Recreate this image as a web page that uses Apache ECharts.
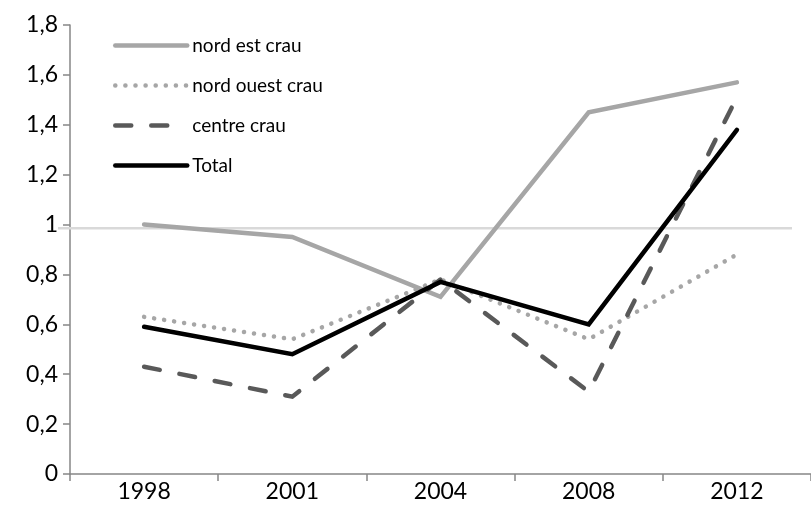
<!DOCTYPE html>
<html>
<head>
<meta charset="utf-8">
<script src="https://cdn.jsdelivr.net/npm/echarts@6/dist/echarts.min.js"></script>
<style>
  html, body { margin: 0; padding: 0; background: #fff; }
  #chart { width: 811px; height: 518px; }
</style>
</head>
<body>
<div id="chart"></div>
<script>
// Years on the category axis
const years = ['1998', '2001', '2004', '2008', '2012'];

// Index values per zone
const nordEstCrau   = [1.00, 0.95, 0.71, 1.45, 1.57];
const nordOuestCrau = [0.63, 0.54, 0.78, 0.54, 0.88];
const centreCrau    = [0.43, 0.31, 0.78, 0.33, 1.51];
const total         = [0.59, 0.48, 0.77, 0.60, 1.38];

// Reference level drawn as a light horizontal rule
const referenceLevel = 0.985;

const FONT = 'Lato, "Open Sans", sans-serif';

const chart = echarts.init(document.getElementById('chart'));

function lineSeries(name, data, color, width, type, cap) {
  return {
    name: name,
    type: 'line',
    data: data,
    showSymbol: false,
    symbol: 'none',
    silent: true,
    animation: false,
    lineStyle: { color: color, width: width, type: type, cap: cap || 'round', join: 'miter' },
    itemStyle: { color: color }
  };
}

chart.setOption({
  animation: false,
  backgroundColor: '#ffffff',
  grid: { left: 70, right: -11, top: 25, bottom: 44, containLabel: false },
  legend: {
    orient: 'vertical',
    left: 108,
    top: 31,
    itemWidth: 72,
    itemHeight: 18,
    itemGap: 21,
    selectedMode: false,
    // keep only the line sample, without the point marker
    itemStyle: { opacity: 0 },
    lineStyle: { width: 'inherit', cap: 'round' },
    textStyle: { fontFamily: FONT, fontSize: 19, color: '#000' },
    data: ['nord est crau', 'nord ouest crau', 'centre crau', 'Total']
  },
  xAxis: {
    type: 'category',
    data: years,
    boundaryGap: true,
    axisLine: { lineStyle: { color: '#868686', width: 1.5 } },
    axisTick: { show: true, length: 7, lineStyle: { color: '#868686', width: 1.5 } },
    axisLabel: { fontFamily: FONT, fontSize: 23, color: '#000', margin: 6 },
    splitLine: { show: false }
  },
  yAxis: {
    type: 'value',
    min: 0,
    max: 1.8,
    interval: 0.2,
    axisLine: { show: true, lineStyle: { color: '#868686', width: 1.5 } },
    axisTick: { show: true, length: 7, lineStyle: { color: '#868686', width: 1.5 } },
    axisLabel: {
      fontFamily: FONT, fontSize: 23, color: '#000', margin: 12,
      formatter: function (v) { return String(Math.round(v * 10) / 10).replace('.', ','); }
    },
    splitLine: { show: false }
  },
  series: [
    lineSeries('nord est crau', nordEstCrau, '#a6a6a6', 4.5, 'solid'),
    lineSeries('nord ouest crau', nordOuestCrau, '#a6a6a6', 4.5, [0.1, 10], 'round'),
    lineSeries('centre crau', centreCrau, '#595959', 4.5, [16, 20], 'round'),
    lineSeries('Total', total, '#000000', 4.5, 'solid')
  ]
});

// Light horizontal rule at the reference level, placed through the value scale
function drawRule() {
  const y = chart.convertToPixel({ yAxisIndex: 0 }, referenceLevel);
  chart.setOption({
    graphic: [{
      id: 'refRule',
      type: 'line',
      z: 1,
      silent: true,
      shape: { x1: 58, y1: y, x2: 792, y2: y },
      style: { stroke: '#d9d9d9', lineWidth: 2.5 }
    }]
  });
}
drawRule();
</script>
</body>
</html>
